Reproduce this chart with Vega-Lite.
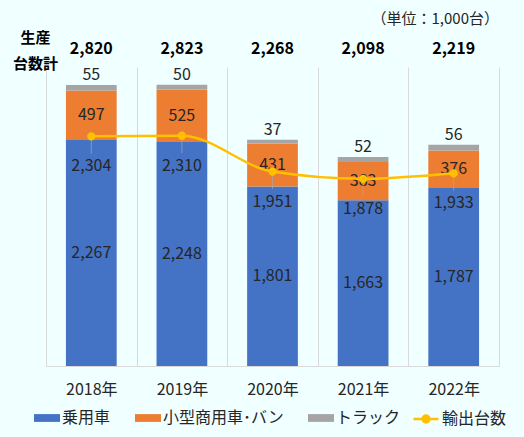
{
  "$schema": "https://vega.github.io/schema/vega-lite/v6.json",
  "width": 453,
  "height": 299,
  "autosize": "none",
  "padding": {"left": 46, "top": 67, "right": 25, "bottom": 71},
  "background": "#F0FFFF",
  "config": {
    "font": "Noto Sans CJK JP",
    "view": {"stroke": null}
  },
  "title": {
    "text": "（単位：1,000台）",
    "anchor": "end",
    "frame": "group",
    "fontSize": 15,
    "fontWeight": "normal",
    "color": "#262626",
    "offset": 3
  },
  "datasets": {
    "prod": [
      {"year": "2018年", "type": "乗用車", "value": 2267},
      {"year": "2018年", "type": "小型商用車･バン", "value": 497},
      {"year": "2018年", "type": "トラック", "value": 55},
      {"year": "2019年", "type": "乗用車", "value": 2248},
      {"year": "2019年", "type": "小型商用車･バン", "value": 525},
      {"year": "2019年", "type": "トラック", "value": 50},
      {"year": "2020年", "type": "乗用車", "value": 1801},
      {"year": "2020年", "type": "小型商用車･バン", "value": 431},
      {"year": "2020年", "type": "トラック", "value": 37},
      {"year": "2021年", "type": "乗用車", "value": 1663},
      {"year": "2021年", "type": "小型商用車･バン", "value": 383},
      {"year": "2021年", "type": "トラック", "value": 52},
      {"year": "2022年", "type": "乗用車", "value": 1787},
      {"year": "2022年", "type": "小型商用車･バン", "value": 376},
      {"year": "2022年", "type": "トラック", "value": 56}
    ],
    "summary": [
      {"year": "2018年", "total": 2820, "export": 2304},
      {"year": "2019年", "total": 2823, "export": 2310},
      {"year": "2020年", "total": 2268, "export": 1951},
      {"year": "2021年", "total": 2098, "export": 1878},
      {"year": "2022年", "total": 2219, "export": 1933}
    ]
  },
  "encoding": {
    "x": {
      "field": "year",
      "type": "nominal",
      "scale": {"paddingInner": 0, "paddingOuter": 0},
      "axis": {
        "title": null,
        "tickBand": "extent",
        "grid": true,
        "gridColor": "#D9D9D9",
        "ticks": false,
        "domainColor": "#D9D9D9",
        "labelAngle": 0,
        "labelFontSize": 16,
        "labelColor": "#262626",
        "labelPadding": 15
      }
    }
  },
  "layer": [
    {
      "data": {"name": "prod"},
      "transform": [
        {"window": [{"op": "row_number", "as": "k"}]},
        {"stack": "value", "groupby": ["year"], "sort": [{"field": "k"}], "as": ["v0", "v1"]}
      ],
      "mark": {"type": "bar", "width": {"band": 0.56}},
      "encoding": {
        "y": {
          "field": "v1",
          "type": "quantitative",
          "scale": {"domain": [0, 3000], "nice": false},
          "axis": {
            "title": ["生産", "台数計"],
            "titleAngle": 0,
            "titleAlign": "center",
            "titleBaseline": "top",
            "titleX": -11,
            "titleY": -37,
            "titleFontSize": 15,
            "titleFontWeight": "bold",
            "titleColor": "#000000",
            "titleLineHeight": 26,
            "labels": false,
            "ticks": false,
            "domain": false,
            "grid": false
          }
        },
        "y2": {"field": "v0"},
        "color": {
          "field": "type",
          "type": "nominal",
          "scale": {
            "domain": ["乗用車", "小型商用車･バン", "トラック"],
            "range": ["#4472C4", "#ED7D31", "#A5A5A5"]
          },
          "legend": {
            "orient": "none",
            "direction": "horizontal",
            "legendX": -12,
            "legendY": 338,
            "title": null,
            "symbolType": "M-1,-0.3H1V0.3H-1Z",
            "symbolSize": 676,
            "symbolStrokeWidth": 0,
            "labelFontSize": 16,
            "labelColor": "#262626",
            "labelOffset": 2,
            "columnPadding": 24
          }
        }
      }
    },
    {
      "data": {"name": "prod"},
      "transform": [
        {"window": [{"op": "row_number", "as": "k"}]},
        {"stack": "value", "groupby": ["year"], "sort": [{"field": "k"}], "as": ["v0", "v1"]},
        {"filter": "datum.type !== 'トラック'"},
        {"calculate": "(datum.v0 + datum.v1) / 2", "as": "mid"}
      ],
      "mark": {"type": "text", "fontSize": 16, "color": "#262626"},
      "encoding": {
        "y": {"field": "mid", "type": "quantitative"},
        "text": {"field": "value", "type": "quantitative", "format": ","}
      }
    },
    {
      "data": {"name": "prod"},
      "transform": [
        {"window": [{"op": "row_number", "as": "k"}]},
        {"stack": "value", "groupby": ["year"], "sort": [{"field": "k"}], "as": ["v0", "v1"]},
        {"filter": "datum.type === 'トラック'"}
      ],
      "mark": {"type": "text", "fontSize": 16, "color": "#262626", "baseline": "bottom", "dy": -2},
      "encoding": {
        "y": {"field": "v1", "type": "quantitative"},
        "text": {"field": "value", "type": "quantitative", "format": ","}
      }
    },
    {
      "data": {"name": "summary"},
      "mark": {"type": "text", "fontSize": 16, "fontWeight": "bold", "color": "#000000"},
      "encoding": {
        "y": {"datum": 3180, "type": "quantitative"},
        "text": {"field": "total", "type": "quantitative", "format": ","}
      }
    },
    {
      "data": {"name": "summary"},
      "mark": {"type": "tick", "orient": "vertical", "size": 17, "thickness": 1, "color": "#A6A6A6", "yOffset": 9},
      "encoding": {
        "y": {"field": "export", "type": "quantitative"}
      }
    },
    {
      "data": {"name": "summary"},
      "mark": {
        "type": "line",
        "interpolate": "monotone",
        "strokeWidth": 2.5,
        "point": {"filled": true, "color": "#FFC000", "size": 40}
      },
      "encoding": {
        "y": {"field": "export", "type": "quantitative"},
        "stroke": {
          "datum": "輸出台数",
          "scale": {"range": ["#FFC000"]},
          "legend": {
            "orient": "none",
            "legendX": 366,
            "legendY": 338,
            "title": null,
            "symbolType": "M-1,0H1M-0.28,0A0.28,0.28,0,1,1,0.28,0A0.28,0.28,0,1,1,-0.28,0",
            "symbolSize": 625,
            "symbolFillColor": "#FFC000",
            "symbolStrokeWidth": 2.5,
            "labelFontSize": 16,
            "labelColor": "#262626",
            "labelOffset": 2
          }
        }
      }
    },
    {
      "data": {"name": "summary"},
      "mark": {"type": "text", "fontSize": 16, "color": "#262626", "dy": 30},
      "encoding": {
        "y": {"field": "export", "type": "quantitative"},
        "text": {"field": "export", "type": "quantitative", "format": ","}
      }
    }
  ]
}
